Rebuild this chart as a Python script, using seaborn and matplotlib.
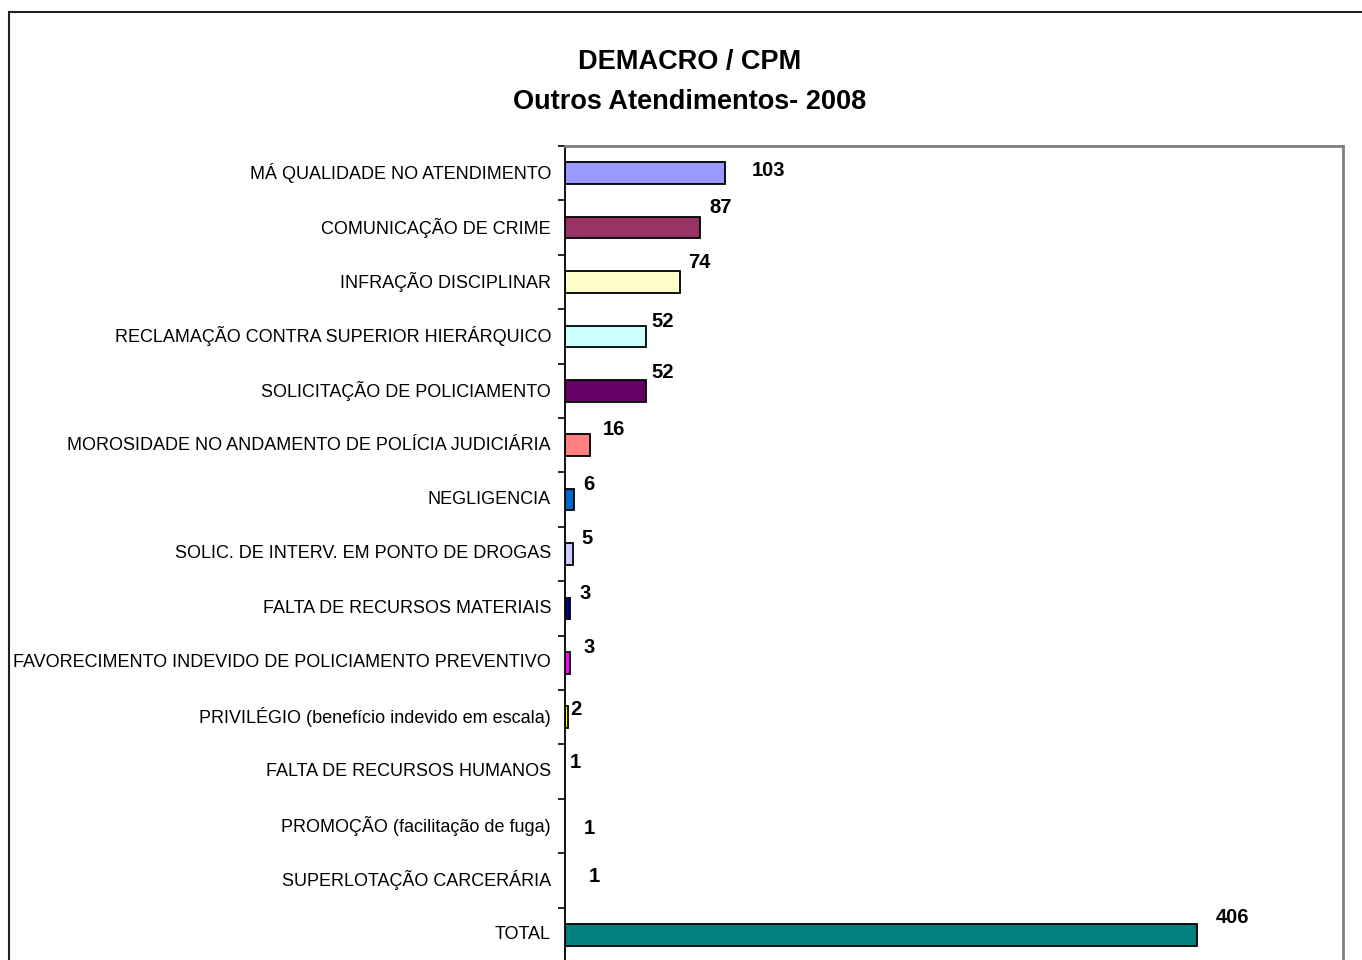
import matplotlib
matplotlib.use("Agg")
import matplotlib.pyplot as plt
from matplotlib.patches import Rectangle
from matplotlib.ticker import FixedLocator
import seaborn as sns
import pandas as pd

categorias = [
    "MÁ QUALIDADE NO ATENDIMENTO",
    "COMUNICAÇÃO DE CRIME",
    "INFRAÇÃO DISCIPLINAR",
    "RECLAMAÇÃO CONTRA SUPERIOR HIERÁRQUICO",
    "SOLICITAÇÃO DE POLICIAMENTO",
    "MOROSIDADE NO ANDAMENTO DE POLÍCIA JUDICIÁRIA",
    "NEGLIGENCIA",
    "SOLIC. DE INTERV. EM PONTO DE DROGAS",
    "FALTA DE RECURSOS MATERIAIS",
    "FAVORECIMENTO INDEVIDO DE POLICIAMENTO PREVENTIVO",
    "PRIVILÉGIO (benefício indevido em escala)",
    "FALTA DE RECURSOS HUMANOS",
    "PROMOÇÃO (facilitação de fuga)",
    "SUPERLOTAÇÃO CARCERÁRIA",
    "TOTAL",
]
valores = [103, 87, 74, 52, 52, 16, 6, 5, 3, 3, 2, 1, 1, 1, 406]
cores = ["#9999FF", "#993366", "#FFFFCC", "#CCFFFF", "#660066", "#FF8080",
         "#0066CC", "#CCCCFF", "#000080", "#FF00FF", "#FFFF00",
         "#FFFFFF", "#FFFFFF", "#FFFFFF", "#008080"]
# label offsets in pixels (dx, dy) from bar end, as placed in the original
desloc = [(43, 3), (20, 20), (19, 19), (17, 15), (17, 18), (24, 16), (15, 15),
          (14, 16), (15, 15), (19, 15), (8, 8), (9, 9), (23, -3), (28, 4), (36, 17)]

sns.set_style("white")
plt.rcParams["font.family"] = ["Liberation Sans", "DejaVu Sans"]
plt.rcParams["text.color"] = "black"
plt.rcParams["ytick.color"] = "black"

df = pd.DataFrame({"cat": categorias, "val": valores})

fig = plt.figure(figsize=(13.62, 9.6), dpi=100)
ax = fig.add_axes([565 / 1362, -2 / 960, (1343 - 565) / 1362, (962 - 146) / 960])

sns.barplot(data=df, y="cat", x="val", hue="cat", palette=dict(zip(categorias, cores)),
            orient="h", width=0.4, saturation=1, edgecolor="black", linewidth=1.3,
            legend=False, ax=ax)
for p, c in zip(ax.patches, cores):
    if c == "#FFFFFF":
        p.set_linewidth(0)

ax.set_xlim(0, 500)
ax.set_ylim(len(categorias) - 0.5, -0.5)
ax.set_xlabel("")
ax.set_ylabel("")
ax.set_xticks([])

ax.yaxis.set_minor_locator(FixedLocator([i - 0.5 for i in range(len(categorias) + 1)]))
ax.tick_params(axis="y", which="major", length=0, pad=10, labelsize=13, labelcolor="black")
ax.tick_params(axis="y", which="minor", length=5, width=1.2, color="black", left=True)
for lab in ax.get_yticklabels():
    lab.set_y(lab.get_position()[1])
    lab.set_verticalalignment("center")

for i, (v, (dx, dy)) in enumerate(zip(valores, desloc)):
    ax.annotate(str(v), xy=(v, i), xytext=(dx, dy), textcoords="offset pixels",
                ha="center", va="center", fontsize=14.5, fontweight="bold", color="black")

ax.spines["left"].set_color("black")
ax.spines["left"].set_linewidth(1.3)
for s in ["top", "right"]:
    ax.spines[s].set_color("#808080")
    ax.spines[s].set_linewidth(2)
ax.spines["bottom"].set_visible(False)

fig.text(690 / 1362, 1 - 62 / 960, "DEMACRO / CPM", ha="center", va="center",
         fontsize=19.5, fontweight="bold", color="black")
fig.text(690 / 1362, 1 - 102 / 960, "Outros Atendimentos- 2008", ha="center", va="center",
         fontsize=19.5, fontweight="bold", color="black")

fig.patches.append(Rectangle((9 / 1362, -0.1), 1.2, 1.1 - 12 / 960, transform=fig.transFigure,
                             fill=False, edgecolor="#202020", linewidth=1.5))

fig.savefig("out.png", dpi=100)
